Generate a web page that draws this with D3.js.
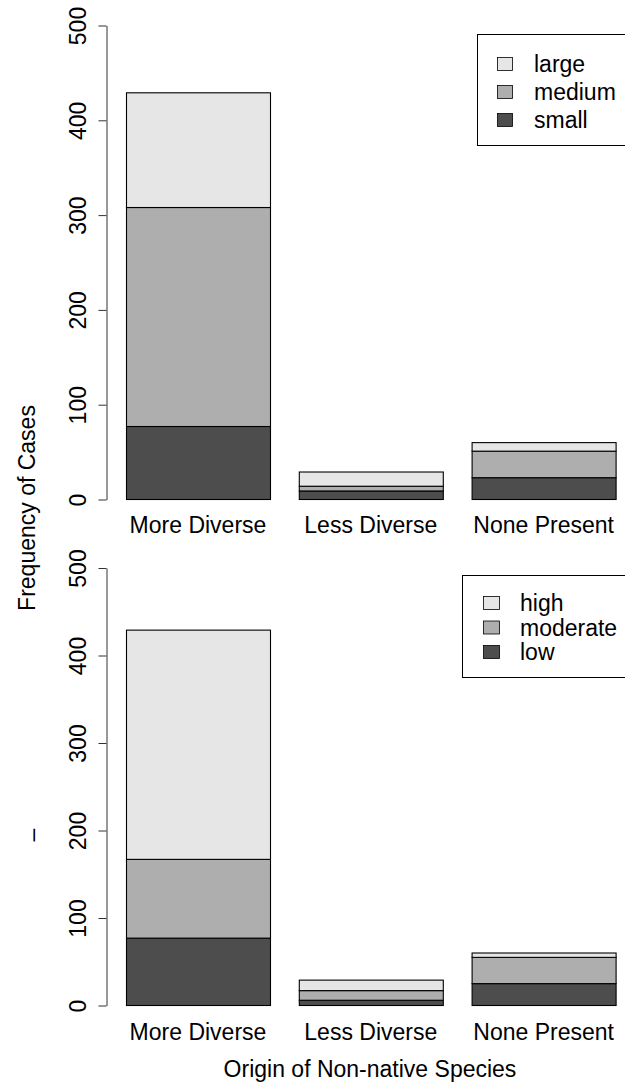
<!DOCTYPE html>
<html>
<head>
<meta charset="utf-8">
<script src="https://cdn.jsdelivr.net/npm/d3@7"></script>
<style>
  html, body { margin: 0; padding: 0; background: #fff; }
  svg { display: block; }
  text { font-family: "Liberation Sans", Arial, Helvetica, sans-serif; fill: #000; }
</style>
</head>
<body>
<svg id="chart" width="625" height="1090"></svg>
<script>
// Categories along the x axis
const categories = ["More Diverse", "Less Diverse", "None Present"];

// Upper panel: counts by size class
const sizeKeys = ["small", "medium", "large"];
const sizeSmall  = [77, 9, 23];
const sizeMedium = [231, 5, 28];
const sizeLarge  = [121, 15, 9];

// Lower panel: counts by impact level
const impactKeys = ["low", "moderate", "high"];
const impactLow      = [77, 6, 25];
const impactModerate = [90, 11, 30];
const impactHigh     = [262, 12, 5];

// Shared y axis ticks
const yTicks = [0, 100, 200, 300, 400, 500];

// gray.colors(3): dark to light for bottom-to-top segments
const fills = ["#4D4D4D", "#AEAEAE", "#E6E6E6"];

const svg = d3.select("#chart");
const FONT = 23;

const x = d3.scaleBand()
  .domain(categories)
  .range([126, 615.6])
  .paddingInner(1 / 6)
  .paddingOuter(0);

function rows(keys, series) {
  return categories.map((c, i) => {
    const r = { category: c };
    keys.forEach((k, j) => { r[k] = series[j][i]; });
    return r;
  });
}

function panel(opts) {
  const g = svg.append("g");
  const y = d3.scaleLinear().domain([0, 500]).range([opts.y0, opts.y500]);

  const stacked = d3.stack().keys(opts.keys)(rows(opts.keys, opts.series));

  g.selectAll("g.layer")
    .data(stacked)
    .join("g")
    .attr("class", "layer")
    .attr("fill", (d, i) => fills[i])
    .selectAll("rect")
    .data(d => d)
    .join("rect")
    .attr("x", d => x(d.data.category) + 0.5)
    .attr("y", d => y(d[1]) + 0.5)
    .attr("width", x.bandwidth())
    .attr("height", d => y(d[0]) - y(d[1]))
    .attr("stroke", "#000")
    .attr("stroke-width", 1.1);

  // y axis with labels rotated parallel to the axis
  const axis = g.append("g")
    .attr("transform", "translate(106.5,0.5)")
    .call(d3.axisLeft(y).tickValues(yTicks).tickSize(8).tickSizeOuter(0));
  axis.select(".domain").attr("stroke", "#333");
  axis.selectAll(".tick line").attr("stroke", "#333");
  axis.selectAll(".tick text")
    .attr("transform", "rotate(-90)")
    .attr("x", 0)
    .attr("y", -21)
    .attr("dy", null)
    .attr("text-anchor", "middle")
    .style("font-family", '"Liberation Sans", Arial, sans-serif')
    .style("font-size", FONT + "px")
    .attr("fill", "#000");

  // category labels
  g.selectAll("text.cat")
    .data(categories)
    .join("text")
    .attr("class", "cat")
    .attr("x", d => x(d) + x.bandwidth() / 2)
    .attr("y", opts.labelY)
    .attr("text-anchor", "middle")
    .style("font-size", FONT + "px")
    .text(d => d);

  // legend, its right side running past the page edge
  const lg = g.append("g");
  lg.append("rect")
    .attr("x", opts.legend.x + 0.5)
    .attr("y", opts.legend.y + 0.5)
    .attr("width", 200)
    .attr("height", opts.legend.h)
    .attr("fill", "#fff")
    .attr("stroke", "#000");
  const items = opts.keys.map((k, i) => ({ k, fill: fills[i] })).reverse();
  items.forEach((it, i) => {
    const cy = opts.legend.row0 + i * opts.legend.step;
    lg.append("rect")
      .attr("x", opts.legend.boxX + 0.5)
      .attr("y", cy - 6.5)
      .attr("width", opts.legend.boxW)
      .attr("height", 13)
      .attr("fill", it.fill)
      .attr("stroke", "#000")
      .attr("stroke-width", 0.8);
    lg.append("text")
      .attr("x", opts.legend.textX)
      .attr("y", cy + 8)
      .style("font-size", FONT + "px")
      .text(it.k);
  });
  return y;
}

panel({
  keys: sizeKeys,
  series: [sizeSmall, sizeMedium, sizeLarge],
  y0: 499, y500: 25,
  labelY: 533,
  legend: { x: 477, y: 34, h: 111, row0: 64, step: 28, boxX: 497, boxW: 15, textX: 534 }
});

panel({
  keys: impactKeys,
  series: [impactLow, impactModerate, impactHigh],
  y0: 1005, y500: 567.5,
  labelY: 1040,
  legend: { x: 462, y: 575, h: 102, row0: 603, step: 24.5, boxX: 483, boxW: 16, textX: 520 }
});

// outer axis titles
svg.append("text")
  .attr("transform", "translate(35,508) rotate(-90)")
  .attr("text-anchor", "middle")
  .style("font-size", FONT + "px")
  .text("Frequency of Cases");

svg.append("text")
  .attr("transform", "translate(40,835) rotate(-90)")
  .attr("text-anchor", "middle")
  .style("font-size", FONT + "px")
  .text("–");

svg.append("text")
  .attr("x", 370)
  .attr("y", 1077)
  .attr("text-anchor", "middle")
  .style("font-size", FONT + "px")
  .text("Origin of Non-native Species");
</script>
</body>
</html>
